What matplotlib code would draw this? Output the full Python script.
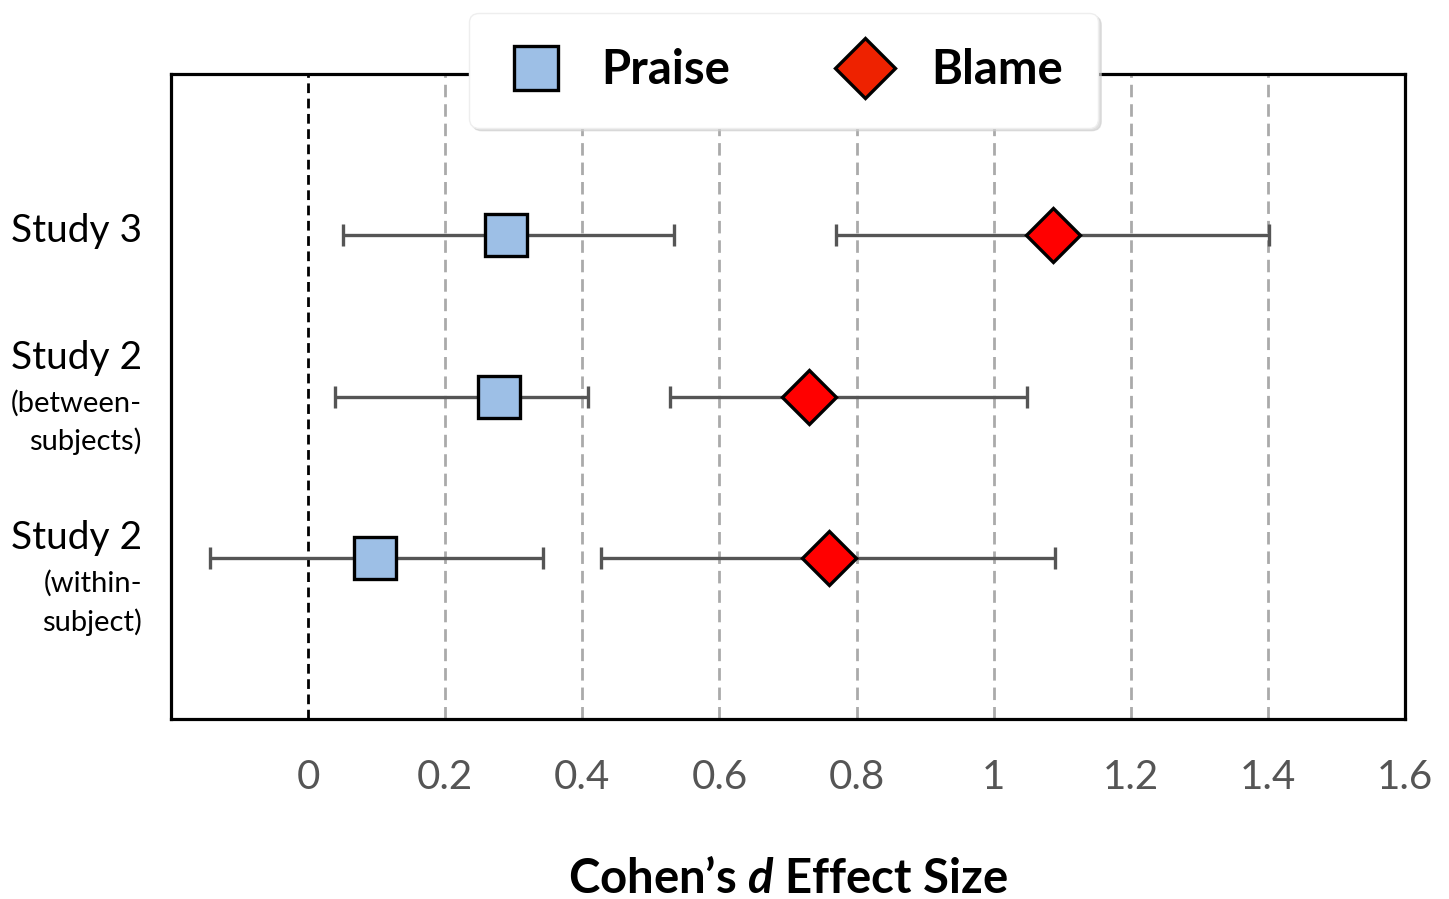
import matplotlib
matplotlib.use("Agg")
import matplotlib.pyplot as plt
from matplotlib.lines import Line2D
import matplotlib.transforms as mtransforms

plt.rcParams['font.family'] = ['Lato', 'DejaVu Sans']
plt.rcParams['mathtext.fontset'] = 'custom'
plt.rcParams['mathtext.it'] = 'Lato:italic:bold'
plt.rcParams['mathtext.rm'] = 'Lato:bold'

# Data
study_titles = ["Study 3", "Study 2", "Study 2"]
study_subtitles = [[], ["(between-", "subjects)"], ["(within-", "subject)"]]
row_pos = [3, 2, 1]

praise_d = [0.288, 0.278, 0.098]
praise_lo = [0.051, 0.039, -0.143]
praise_hi = [0.534, 0.408, 0.342]

blame_d = [1.087, 0.731, 0.760]
blame_lo = [0.770, 0.528, 0.428]
blame_hi = [1.402, 1.049, 1.089]

x_ticks = [0, 0.2, 0.4, 0.6, 0.8, 1.0, 1.2, 1.4, 1.6]
x_tick_labels = ["0", "0.2", "0.4", "0.6", "0.8", "1", "1.2", "1.4", "1.6"]

# layout: vertical pixel offsets of label lines relative to each row (title, sub1, sub2)
label_offsets_px = [[4], [39, -7, -45], [20, -26, -64]]

fig = plt.figure(figsize=(14.49, 8.99), dpi=100)
ax = fig.add_axes([0.118, 0.2002, 0.8516, 0.7175])

# grid lines
for t in x_ticks[1:-1]:
    ax.axvline(t, color='#aaaaaa', lw=2.0, dashes=(4.5, 2.5), zorder=0)
ax.axvline(0, color='black', lw=2.0, dashes=(3.5, 2), zorder=1)

err_kw = dict(fmt='none', ecolor='#555555', elinewidth=2.4, capsize=8, capthick=2.4, zorder=2)
ax.errorbar(praise_d, row_pos,
            xerr=[[d - l for d, l in zip(praise_d, praise_lo)], [h - d for d, h in zip(praise_d, praise_hi)]],
            **err_kw)
ax.errorbar(blame_d, row_pos,
            xerr=[[d - l for d, l in zip(blame_d, blame_lo)], [h - d for d, h in zip(blame_d, blame_hi)]],
            **err_kw)
ax.plot(praise_d, row_pos, linestyle='none', marker='s', markersize=30,
        markerfacecolor='#9dbfe6', markeredgecolor='black', markeredgewidth=2.4, zorder=3)
ax.plot(blame_d, row_pos, linestyle='none', marker='D', markersize=27,
        markerfacecolor='#ff0000', markeredgecolor='black', markeredgewidth=2.4, zorder=3)

ax.set_xlim(-0.2, 1.6)
ax.set_ylim(0, 4)
ax.set_xticks(x_ticks)
ax.set_xticklabels(x_tick_labels, fontsize=29, color='#555555')
ax.tick_params(axis='x', length=0, pad=29)
ax.set_yticks([])
for s in ax.spines.values():
    s.set_linewidth(2.3)
    s.set_color('black')

ax.set_xlabel(r"Cohen’s $d$ Effect Size", fontsize=34, fontweight='bold', labelpad=44)

# y labels
trans = mtransforms.blended_transform_factory(fig.transFigure, ax.transData)
for title, subs, y, offs in zip(study_titles, study_subtitles, row_pos, label_offsets_px):
    t0 = mtransforms.offset_copy(trans, fig=fig, x=0, y=offs[0], units='dots')
    ax.text(0.098, y, title, transform=t0, ha='right', va='center', fontsize=28)
    for sub, off in zip(subs, offs[1:]):
        ts = mtransforms.offset_copy(trans, fig=fig, x=0, y=off, units='dots')
        ax.text(0.098, y, sub, transform=ts, ha='right', va='center', fontsize=21)

handles = [
    Line2D([], [], linestyle='none', marker='s', markersize=32, markerfacecolor='#9dbfe6',
           markeredgecolor='black', markeredgewidth=2.4),
    Line2D([], [], linestyle='none', marker='D', markersize=31, markerfacecolor='#ee2200',
           markeredgecolor='black', markeredgewidth=2.4),
]
leg = fig.legend(handles, ["Praise", "Blame"], loc='upper center', bbox_to_anchor=(0.541, 0.9855),
                 ncol=2, prop={'family': 'Lato', 'weight': 'bold', 'size': 34},
                 frameon=True, fancybox=True, shadow={'color': '#cccccc', 'alpha': 0.6},
                 borderpad=0.75, handletextpad=0.75, columnspacing=2.2, handlelength=1.3,
                 borderaxespad=0, edgecolor='#eeeeee', framealpha=1)
leg.get_frame().set_linewidth(1.0)

fig.savefig("out.png", dpi=100)
